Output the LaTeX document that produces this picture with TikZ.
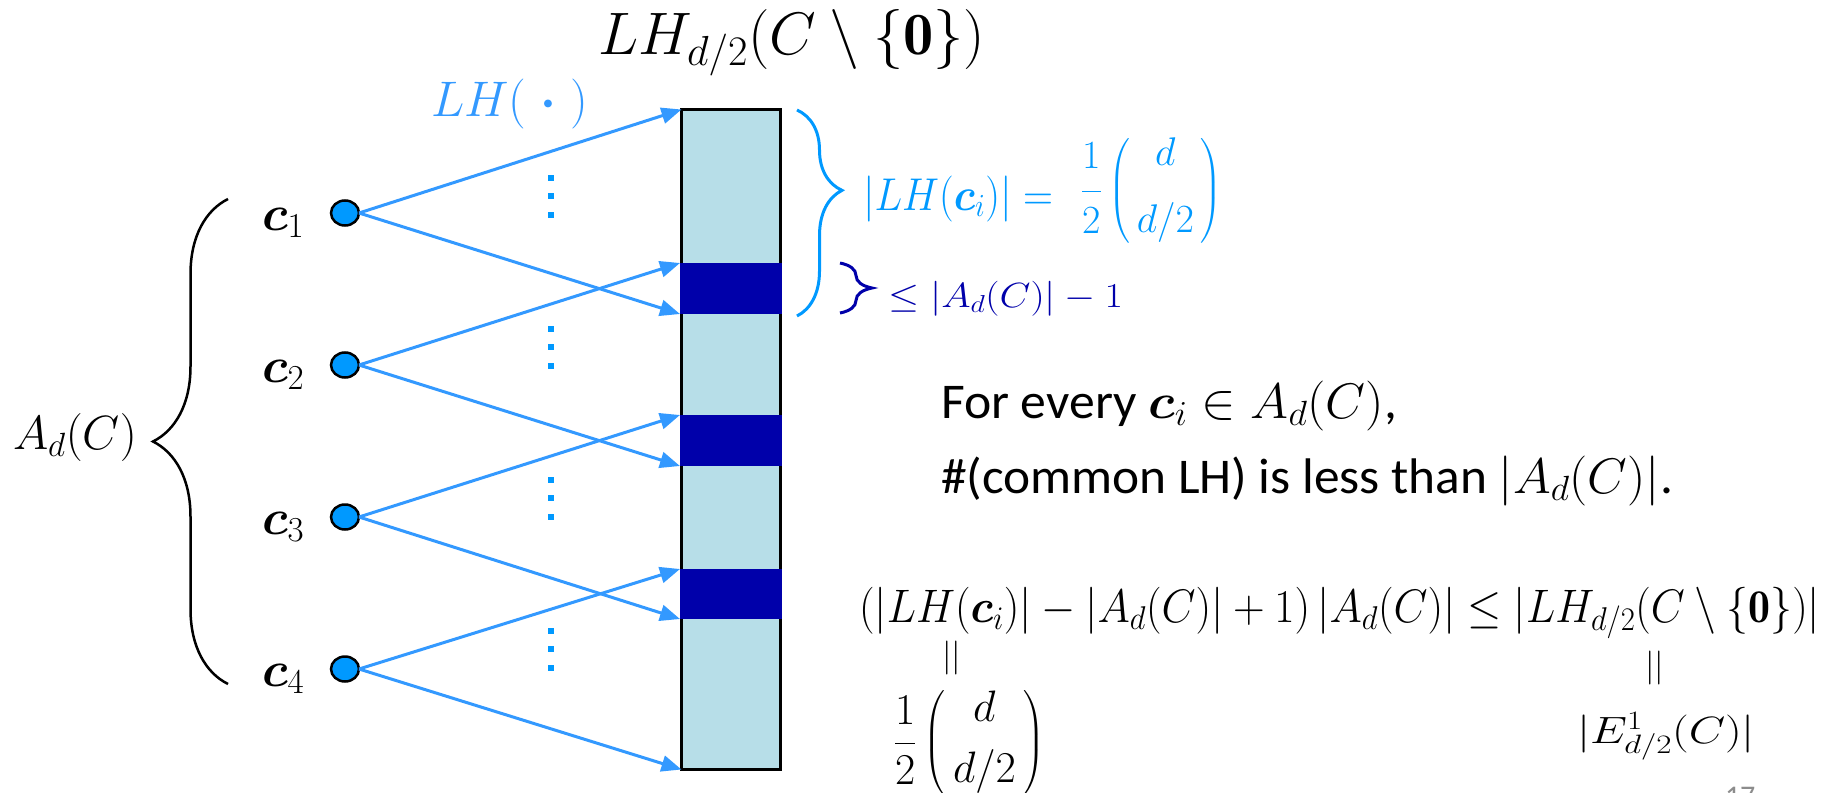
\RequirePackage{fix-cm}
\documentclass[tikz,border=0pt]{standalone}
\usepackage{fontspec}
\usepackage{amsmath}
\usepackage{bm}
\usepackage{graphicx}
\newfontfamily\calibri{Carlito}
\usetikzlibrary{arrows.meta,shapes.geometric,decorations.pathreplacing}
\definecolor{arrowblue}{RGB}{51,153,255}
\definecolor{ciblue}{RGB}{0,153,255}
\definecolor{barfill}{RGB}{183,222,232}
\definecolor{navy}{RGB}{0,0,170}
\newcommand{\fs}[1]{\fontsize{#1}{#1}\selectfont}
\newcommand{\wfit}[2]{\resizebox{#1}{\height}{#2}}
\begin{document}
\begin{tikzpicture}[x=1pt,y=1pt,
  every node/.style={inner sep=0pt,outer sep=0pt},
  conn/.style={arrowblue, line width=3pt, -{Triangle[length=20pt,width=16pt]}},
  cnode/.style={ellipse, draw=black, line width=2.5pt, fill=ciblue, minimum width=28pt, minimum height=25pt},
  band/.style={fill=navy, minimum width=102pt, minimum height=#1},
  clabel/.style={anchor=base west, font=\fs{50}}
]
\useasboundingbox (0,0) rectangle (1835,-792);

% bar and bands
\node[draw=black, line width=3pt, fill=barfill, minimum width=99pt, minimum height=660pt] (bar) at (731,-439.5) {};
\node[band=51pt] (b1) at (731,-288.5) {};
\node[band=51pt] (b2) at (731,-440.5) {};
\node[band=50pt] (b3) at (731,-594) {};

% codeword circles
\node[cnode] (c1) at (345,-213) {};
\node[cnode] (c2) at (345,-365) {};
\node[cnode] (c3) at (345,-517) {};
\node[cnode] (c4) at (345,-669) {};

% arrows
\draw[conn] (c1.east) -- (bar.north west);
\draw[conn] (c1.east) -- (b1.south west);
\draw[conn] (c2.east) -- (b1.north west);
\draw[conn] (c2.east) -- (b2.south west);
\draw[conn] (c3.east) -- (b2.north west);
\draw[conn] (c3.east) -- (b3.south west);
\draw[conn] (c4.east) -- (b3.north west);
\draw[conn] (c4.east) -- (bar.south west);

% vertical dots
\foreach \yy in {196,347,498,649} {
  \foreach \dd in {-18.5,0,18.5} {
    \fill[ciblue] (548,{-(\yy+\dd)-3}) rectangle (554,{-(\yy+\dd)+3});
  }
}

% labels
\node[clabel] (l1) at (262,-230) {$\bm c_1$};
\node[clabel] (l2) at (262,-382) {$\bm c_2$};
\node[clabel] (l3) at (262,-534) {$\bm c_3$};
\node[clabel] (l4) at (262,-686) {$\bm c_4$};

% left brace
\draw[line width=2.5pt, decorate, decoration={brace, amplitude=75pt, aspect=0.5}] (228,-684) -- (228,-199);
\node[anchor=base west, font=\fs{48}] (ad) at (13,-449) {$A_d(C)$};

% title
\node[anchor=base west, font=\fs{60}] (title) at (598,-55) {\wfit{387pt}{$LH_{d/2}(C\setminus\{\mathbf{0}\})$}};
\node[anchor=base west, font=\fs{50}, text=arrowblue] (lhdot) at (431,-116) {$LH(\;\bm{\cdot}\;)$};

% right braces
\draw[ciblue, line width=3pt, decorate, decoration={brace, amplitude=45pt, aspect=0.39}] (797,-110) -- (797,-316);
\draw[navy, line width=3pt, decorate, decoration={brace, amplitude=32pt, aspect=0.5}] (840,-263) -- (840,-313);

\node[anchor=base west, font=\fs{46}, text=ciblue] (lhci) at (863,-210)
  {\wfit{190pt}{$|LH(\bm c_i)| =$}};
\node[anchor=west, font=\fs{40}, text=ciblue] (lhfrac) at (1081,-191)
  {$\dfrac{1\rule[-19pt]{0pt}{19pt}}{\rule{0pt}{39pt}2}\left(\begin{array}{@{\,}c@{\,}} d\\[25pt] d/2\end{array}\right)$};
\node[anchor=base west, font=\fs{35}, text=navy] (le) at (888,-307) {\wfit{235pt}{$\le |A_d(C)| - 1$}};

% statement
\node[anchor=base west, font=\calibri\fs{50}] (t1) at (941,-418) {\wfit{456pt}{For every $\bm c_i \in A_d(C)$,}};
\node[anchor=base west, font=\calibri\fs{50}] (t2) at (941,-493) {\wfit{732pt}{\#(common LH) is less than $|A_d(C)|$.}};

% inequality
\node[anchor=base west, font=\fs{47}] (ineq) at (859,-622)
  {\wfit{961pt}{$(|LH(\bm c_i)| - |A_d(C)| + 1)\,|A_d(C)| \le |LH_{d/2}(C\setminus\{\mathbf{0}\})|$}};
\node[font=\fs{34}] (eq1) at (952,-658) {$||$};
\node[font=\fs{34}] (eq2) at (1655,-668) {$||$};
\node[anchor=west, font=\fs{44}] (half) at (894,-743)
  {$\dfrac{1}{2}\left(\begin{array}{@{\,}c@{\,}} d\\[15pt] d/2\end{array}\right)$};
\node[anchor=base west, font=\fs{38}] (e1) at (1577,-743) {\wfit{178pt}{$|E^1_{d/2}(C)|$}};

% page number (cut off)
\begin{scope}
\clip (0,0) rectangle (1835,-792);
\node[anchor=north west, font=\calibri\fs{30}, text=black!45] (pg) at (1725,-787) {17};
\end{scope}
\end{tikzpicture}
\end{document}
